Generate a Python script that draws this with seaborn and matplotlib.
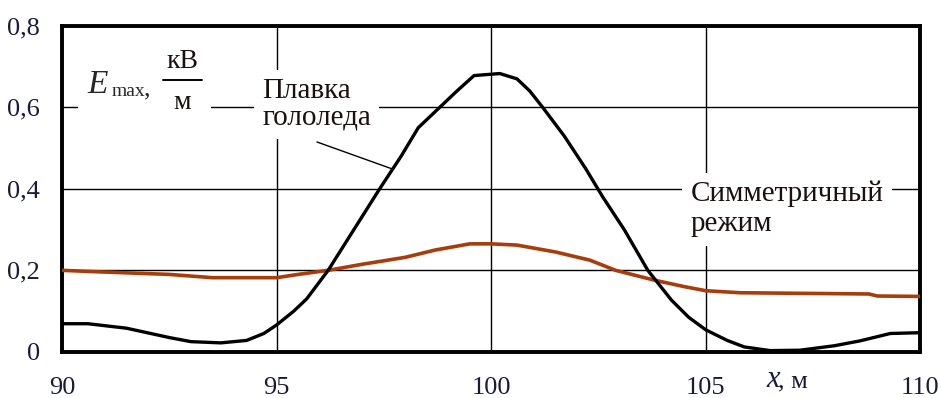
import numpy as np
import pandas as pd
import seaborn as sns
import matplotlib.pyplot as plt

# кривая "Плавка гололеда"
x_melt = [90, 90.6, 91.5, 92.5, 93.0, 93.7, 94.3, 94.7, 95.0, 95.4, 95.7, 96.2, 96.8,
          97.4, 97.9, 98.3, 98.8, 99.2, 99.6, 100.2, 100.6, 100.9, 101.2, 101.7, 102.2,
          102.6, 103.1, 103.65, 104.2, 104.6, 105.0, 105.5, 105.9, 106.5, 107.2, 108.0,
          108.6, 109.3, 110]
e_melt = [0.069, 0.069, 0.058, 0.035, 0.025, 0.022, 0.028, 0.045, 0.066, 0.1, 0.13,
          0.2, 0.3, 0.4, 0.48, 0.55, 0.6, 0.64, 0.678, 0.683, 0.67, 0.64, 0.6, 0.53,
          0.45, 0.38, 0.3, 0.2, 0.127, 0.085, 0.054, 0.028, 0.012, 0.003, 0.004, 0.015,
          0.027, 0.045, 0.047]

# кривая "Симметричный режим"
x_sym = [90, 90.7, 92.5, 93.5, 95.0, 95.5, 96.2, 97.0, 98.0, 98.7, 99.5, 100.0, 100.6,
         101.5, 102.3, 102.9, 103.8, 104.5, 105.0, 105.8, 108.8, 109.0, 110]
e_sym = [0.2, 0.197, 0.19, 0.182, 0.182, 0.19, 0.2, 0.215, 0.232, 0.25, 0.265, 0.265,
         0.262, 0.245, 0.225, 0.2, 0.176, 0.16, 0.15, 0.145, 0.142, 0.137, 0.136]

x_ticks = [90, 95, 100, 105, 110]
y_ticks = [0, 0.2, 0.4, 0.6, 0.8]
y_labels = ['0', '0,2', '0,4', '0,6', '0,8']

sns.set_style('white')
plt.rcParams['font.family'] = ['Liberation Serif', 'DejaVu Serif']

df_melt = pd.DataFrame({'x': x_melt, 'E': e_melt})
df_sym = pd.DataFrame({'x': x_sym, 'E': e_sym})

fig = plt.figure(figsize=(9.41, 3.98), dpi=100)
ax = fig.add_axes([0.066, 0.116, 0.912, 0.819])

sns.lineplot(data=df_sym, x='x', y='E', color='#a83c0a', lw=2.6, ax=ax, zorder=3)
sns.lineplot(data=df_melt, x='x', y='E', color='black', lw=2.4, ax=ax, zorder=4)

ax.set_xlim(90, 110)
ax.set_ylim(0, 0.8)
ax.set_xticks(x_ticks)
ax.set_yticks(y_ticks)
ax.set_yticklabels(y_labels)
ax.set_xlabel('')
ax.set_ylabel('')
ax.grid(True, color='black', lw=1.0)
ax.set_axisbelow(True)
for s in ax.spines.values():
    s.set_color('black')
    s.set_linewidth(2.8)
ax.tick_params(axis='both', length=0, labelsize=19, colors='#1a1a3a')
ax.tick_params(axis='x', pad=18)
ax.tick_params(axis='y', pad=16)

txt = '#1a1010'

# подпись оси y
ax.add_patch(plt.Rectangle((90.37, 0.556), 3.1, 0.2, facecolor='white', edgecolor='none', zorder=2))
ax.text(90.6, 0.655, 'E', fontsize=24, style='italic', va='center', zorder=5)
ax.text(91.15, 0.64, 'max', fontsize=14, va='center', zorder=5)
ax.text(91.9, 0.645, ',', fontsize=19, va='center', zorder=5)
ax.text(92.8, 0.712, 'кВ', fontsize=20, ha='center', va='center', color=txt, zorder=5)
ax.plot([92.35, 93.25], [0.667, 0.667], color='black', lw=1.4, zorder=5)
ax.text(92.8, 0.612, 'м', fontsize=20, ha='center', va='center', color=txt, zorder=5)

ax.text(94.66, 0.608, 'Плавка\nгололеда', fontsize=21, va='center', color=txt,
        linespacing=1.0, bbox=dict(facecolor='white', edgecolor='none', pad=6), zorder=5)
ax.plot([95.94, 97.69], [0.515, 0.449], color='black', lw=1.0, zorder=5)

ax.text(104.65, 0.35, 'Симметричный\nрежим', fontsize=21, va='center', color=txt,
        linespacing=1.2, bbox=dict(facecolor='white', edgecolor='none', pad=6), zorder=5)

fig.text(0.814, 0.027, 'x', fontsize=22, style='italic', color='#1a1a3a')
fig.text(0.827, 0.027, ', м', fontsize=19, color='#1a1a3a')

fig.savefig('out.png', dpi=100)
